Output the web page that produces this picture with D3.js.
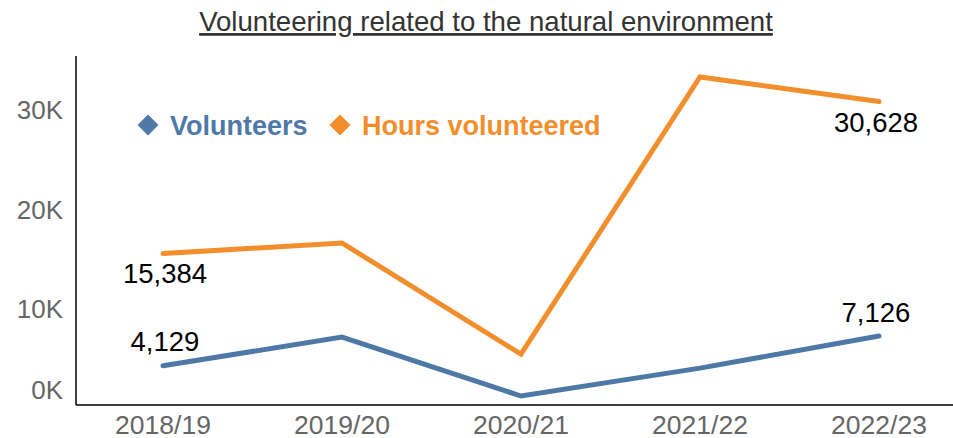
<!DOCTYPE html>
<html><head><meta charset="utf-8">
<script src="https://cdn.jsdelivr.net/npm/d3@7"></script>
<style>body{margin:0;background:#fff}svg{display:block}text{font-family:"Liberation Sans",Arial,sans-serif}</style>
</head><body>
<script>
const categories = ["2018/19","2019/20","2020/21","2021/22","2022/23"];
const volunteers = [4129, 7020, 1100, 3900, 7126];
const hours = [15384, 16450, 5300, 33100, 30628];
const yTicks = [0, 10000, 20000, 30000];
const title = "Volunteering related to the natural environment";
const seriesNames = ["Volunteers","Hours volunteered"];
const colors = ["#4E79A7","#F28E2B"];

const W = 953, H = 438;
const svg = d3.select("body").append("svg").attr("width", W).attr("height", H);

const x = d3.scalePoint().domain(categories).range([163, 879]);
const y = d3.scaleLinear().domain([0, 35000]).range([407, 58]);

// title
svg.append("text").attr("x", 486).attr("y", 31).attr("text-anchor","middle")
  .attr("font-size", 27.6).attr("fill","#333").attr("text-decoration","underline").text(title);

// axes lines
svg.append("line").attr("x1",76).attr("x2",76).attr("y1",56).attr("y2",405).attr("stroke","#000").attr("stroke-width",1.5);
svg.append("line").attr("x1",76).attr("x2",W).attr("y1",405).attr("y2",405).attr("stroke","#000").attr("stroke-width",1.5);

// y tick labels
svg.selectAll(".yt").data(yTicks).enter().append("text")
  .attr("x", 63).attr("y", d => d === 0 ? y(d) - 17 + 9 : y(d) + 2 + 9)
  .attr("text-anchor","end").attr("font-size",26).attr("fill","#666")
  .text(d => d3.format("d")(d/1000) + "K");

// x tick labels
svg.selectAll(".xt").data(categories).enter().append("text")
  .attr("x", d => x(d)).attr("y", 434).attr("text-anchor","middle")
  .attr("font-size",26.5).attr("fill","#666").text(d => d);

const line = d3.line().x((d,i) => x(categories[i])).y(d => y(d));
[volunteers, hours].forEach((s, k) => {
  svg.append("path").datum(s).attr("d", line).attr("fill","none")
    .attr("stroke", colors[k]).attr("stroke-width",5).attr("stroke-linecap","round").attr("stroke-linejoin","miter");
});

// data labels
const fmt = d3.format(",");
const labels = [
  {v: volunteers[0], i: 0, dy: -15},
  {v: volunteers[4], i: 4, dy: -14},
  {v: hours[0], i: 0, dy: 29},
  {v: hours[4], i: 4, dy: 30}
];
svg.selectAll(".dl").data(labels).enter().append("text")
  .attr("x", d => x(categories[d.i]) + (d.i === 0 ? 2 : -3)).attr("y", d => y(d.v) + d.dy)
  .attr("text-anchor","middle").attr("font-size",27.5).attr("fill","#000").text(d => fmt(d.v));

// legend
const legX = [148, 340];
seriesNames.forEach((n, k) => {
  const g = svg.append("g").attr("transform", `translate(${legX[k]},125)`);
  g.append("path").attr("d", d3.symbol(d3.symbolSquare, 220)()).attr("transform","rotate(45)").attr("fill", colors[k]);
  g.append("text").attr("x", 22).attr("y", 10).attr("font-size",27).attr("font-weight","bold")
    .attr("fill", colors[k]).text(n);
});
</script>
</body></html>
